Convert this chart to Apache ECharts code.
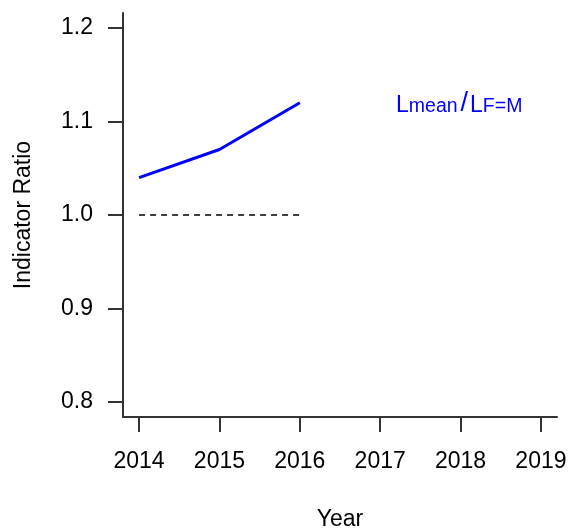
<!DOCTYPE html>
<html><head><meta charset="utf-8">
<script src="https://cdn.jsdelivr.net/npm/echarts@6/dist/echarts.min.js"></script>
<style>html,body{margin:0;padding:0;background:#fff}#c{width:568px;height:529px}</style>
</head><body><div id="c"></div>
<script>
const years = [2014, 2015, 2016];
const ratioValues = [1.04, 1.07, 1.12];
const refValues = [1.0, 1.0, 1.0];
const xTicks = [2014, 2015, 2016, 2017, 2018, 2019];
const yTicks = [0.8, 0.9, 1.0, 1.1, 1.2];

const FONT = 'Liberation Sans, Arial, sans-serif';
const chart = echarts.init(document.getElementById('c'));
chart.setOption({
  animation: false,
  grid: {left: 123, top: 13, right: 11, bottom: 112, outerBoundsMode: 'none', containLabel: false},
  xAxis: {
    type: 'value', min: 2013.8, max: 2019.2,
    name: 'Year', nameLocation: 'middle', nameGap: 91,
    nameTextStyle: {fontFamily: FONT, fontSize: 23, color: '#000'},
    axisLine: {show: true, lineStyle: {color: '#333', width: 2}},
    axisTick: {show: true, length: 15, customValues: xTicks, lineStyle: {color: '#333', width: 2}},
    axisLabel: {customValues: xTicks, margin: 33, fontFamily: FONT, fontSize: 23, color: '#000', formatter: v => String(v)},
    splitLine: {show: false}
  },
  yAxis: {
    type: 'value', min: 0.784, max: 1.216,
    name: 'Indicator Ratio', nameLocation: 'middle', nameGap: 88, nameRotate: 90,
    nameTextStyle: {fontFamily: FONT, fontSize: 23, color: '#000'},
    axisLine: {show: true, lineStyle: {color: '#333', width: 2}},
    axisTick: {show: true, length: 15, customValues: yTicks, lineStyle: {color: '#333', width: 2}},
    axisLabel: {customValues: yTicks, margin: 30, fontFamily: FONT, fontSize: 23, color: '#000', formatter: v => v.toFixed(1)},
    splitLine: {show: false}
  },
  series: [
    {type: 'line', data: years.map((y, i) => [y, ratioValues[i]]), showSymbol: false,
     lineStyle: {color: '#0000FF', width: 3}, z: 3},
    {type: 'line', data: years.map((y, i) => [y, refValues[i]]), showSymbol: false,
     lineStyle: {color: '#000', width: 1.5, type: [6, 5]}, z: 2}
  ],
  graphic: [{
    type: 'text', left: 396, top: 90,
    style: {
      text: '{L|L}{s|mean}{sl|/}{L|L}{s|F=M}',
      fill: '#0000FF', fontFamily: FONT,
      rich: {
        L: {fontSize: 23, fill: '#0000FF', fontFamily: FONT, verticalAlign: 'bottom', lineHeight: 32},
        s: {fontSize: 19.5, fill: '#0000FF', fontFamily: FONT, verticalAlign: 'bottom', lineHeight: 19},
        sl: {fontSize: 27, fill: '#0000FF', fontFamily: FONT, verticalAlign: 'bottom', lineHeight: 32, padding: [0, 2, 0, 3]}
      }
    }
  }]
});
</script></body></html>
